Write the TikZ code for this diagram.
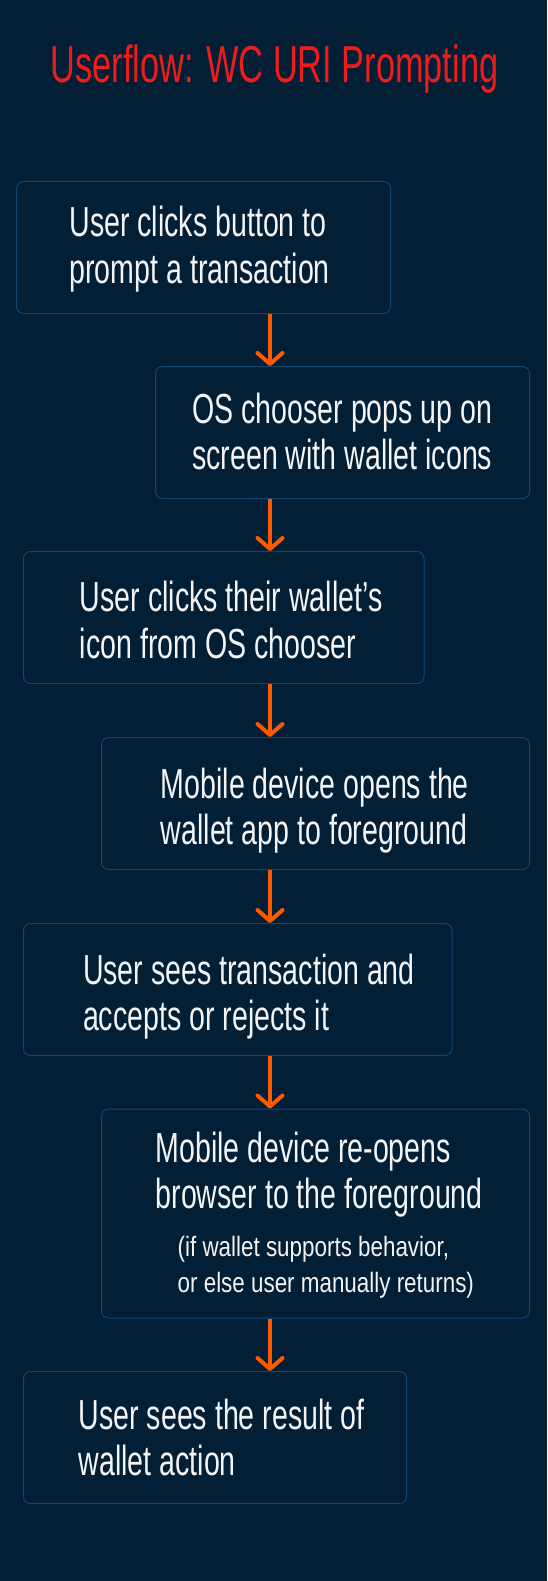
\documentclass[tikz,border=0pt]{standalone}
\usepackage{fontspec}
\usepackage{tikz}
\usetikzlibrary{calc,arrows.meta,positioning}
\newfontfamily\flowfont{Liberation Sans}[FakeStretch=0.68]
\newfontfamily\notefont{Liberation Sans}[FakeStretch=0.8]
\newfontfamily\titlefont{Liberation Sans}[FakeStretch=0.66]
\definecolor{navy}{HTML}{021F36}
\definecolor{boxblue}{HTML}{0E4677}
\definecolor{flow}{HTML}{FF5A00}
\definecolor{titlered}{HTML}{EE1C1C}
\definecolor{ink}{HTML}{F4F4F4}
\tikzset{flowbox/.style={draw=boxblue,line width=1pt,rounded corners=7pt,inner sep=0pt,minimum height=132pt},
flowtext/.style={anchor=base west,align=left,inner sep=0pt,text=ink,font=\flowfont\fontsize{42}{46.6}\selectfont},
notetext/.style={anchor=base west,align=left,inner sep=0pt,text=ink,font=\notefont\fontsize{28}{36}\selectfont},
flowarrow/.style={flow,line width=4pt,-{Straight Barb[round,length=11pt,width=25pt]}}}

\begin{document}
\begin{tikzpicture}[x=1pt,y=-1pt]

% Background
\fill[navy] (0,0) rectangle (547,1581);
\useasboundingbox (0,0) rectangle (547,1581);

% Title
\node[anchor=base,text=titlered,font=\titlefont\fontsize{52}{60}\selectfont,inner sep=0pt] (title) at (274.5,83) {Userflow: WC URI Prompting};

% Steps
\node[flowbox,minimum width=374pt] (b1) at (203.5,247.5) {};
\node[flowbox,minimum width=374pt] (b2) at (342.5,432.5) {};
\node[flowbox,minimum width=400.5pt] (b3) at (223.75,617.5) {};
\node[flowbox,minimum width=428pt] (b4) at (315.5,803.5) {};
\node[flowbox,minimum width=428.5pt] (b5) at (237.75,989.5) {};
\node[flowbox,minimum width=428pt,minimum height=209pt] (b6) at (315.5,1213.5) {};
\node[flowbox,minimum width=383pt] (b7) at (215,1437.5) {};

% Step texts (base = last line)
\node[flowtext] (t1) at ($(b1.west)+(53.3,35.8)$) {User clicks button to\\prompt a transaction};
\node[flowtext] (t2) at ($(b2.west)+(37.1,37.4)$) {OS chooser pops up on\\screen with wallet icons};
\node[flowtext] (t3) at ($(b3.west)+(56.7,40.8)$) {User clicks their wallet’s\\icon from OS chooser};
\node[flowtext] (t4) at ($(b4.west)+(59.7,41.4)$) {Mobile device opens the\\wallet app to foreground};
\node[flowtext] (t5) at ($(b5.west)+(59.8,41.4)$) {User sees transaction and\\accepts or rejects it};
\node[flowtext] (t6) at ($(b6.west)+(54.5,-4.9)$) {Mobile device re-opens\\browser to the foreground};
\node[notetext] (t6n) at ($(b6.west)+(76.5,78.5)$) {(if wallet supports behavior,\\or else user manually returns)};
\node[flowtext] (t7) at ($(b7.west)+(55.5,38.4)$) {User sees the result of\\wallet action};

% Arrows
\coordinate (ax) at (270,0);
\foreach \a/\b in {b1/b2,b2/b3,b3/b4,b4/b5,b5/b6,b6/b7} \draw[flowarrow] (\a.south -| ax) -- (\b.north -| ax);

\end{tikzpicture}
\end{document}
